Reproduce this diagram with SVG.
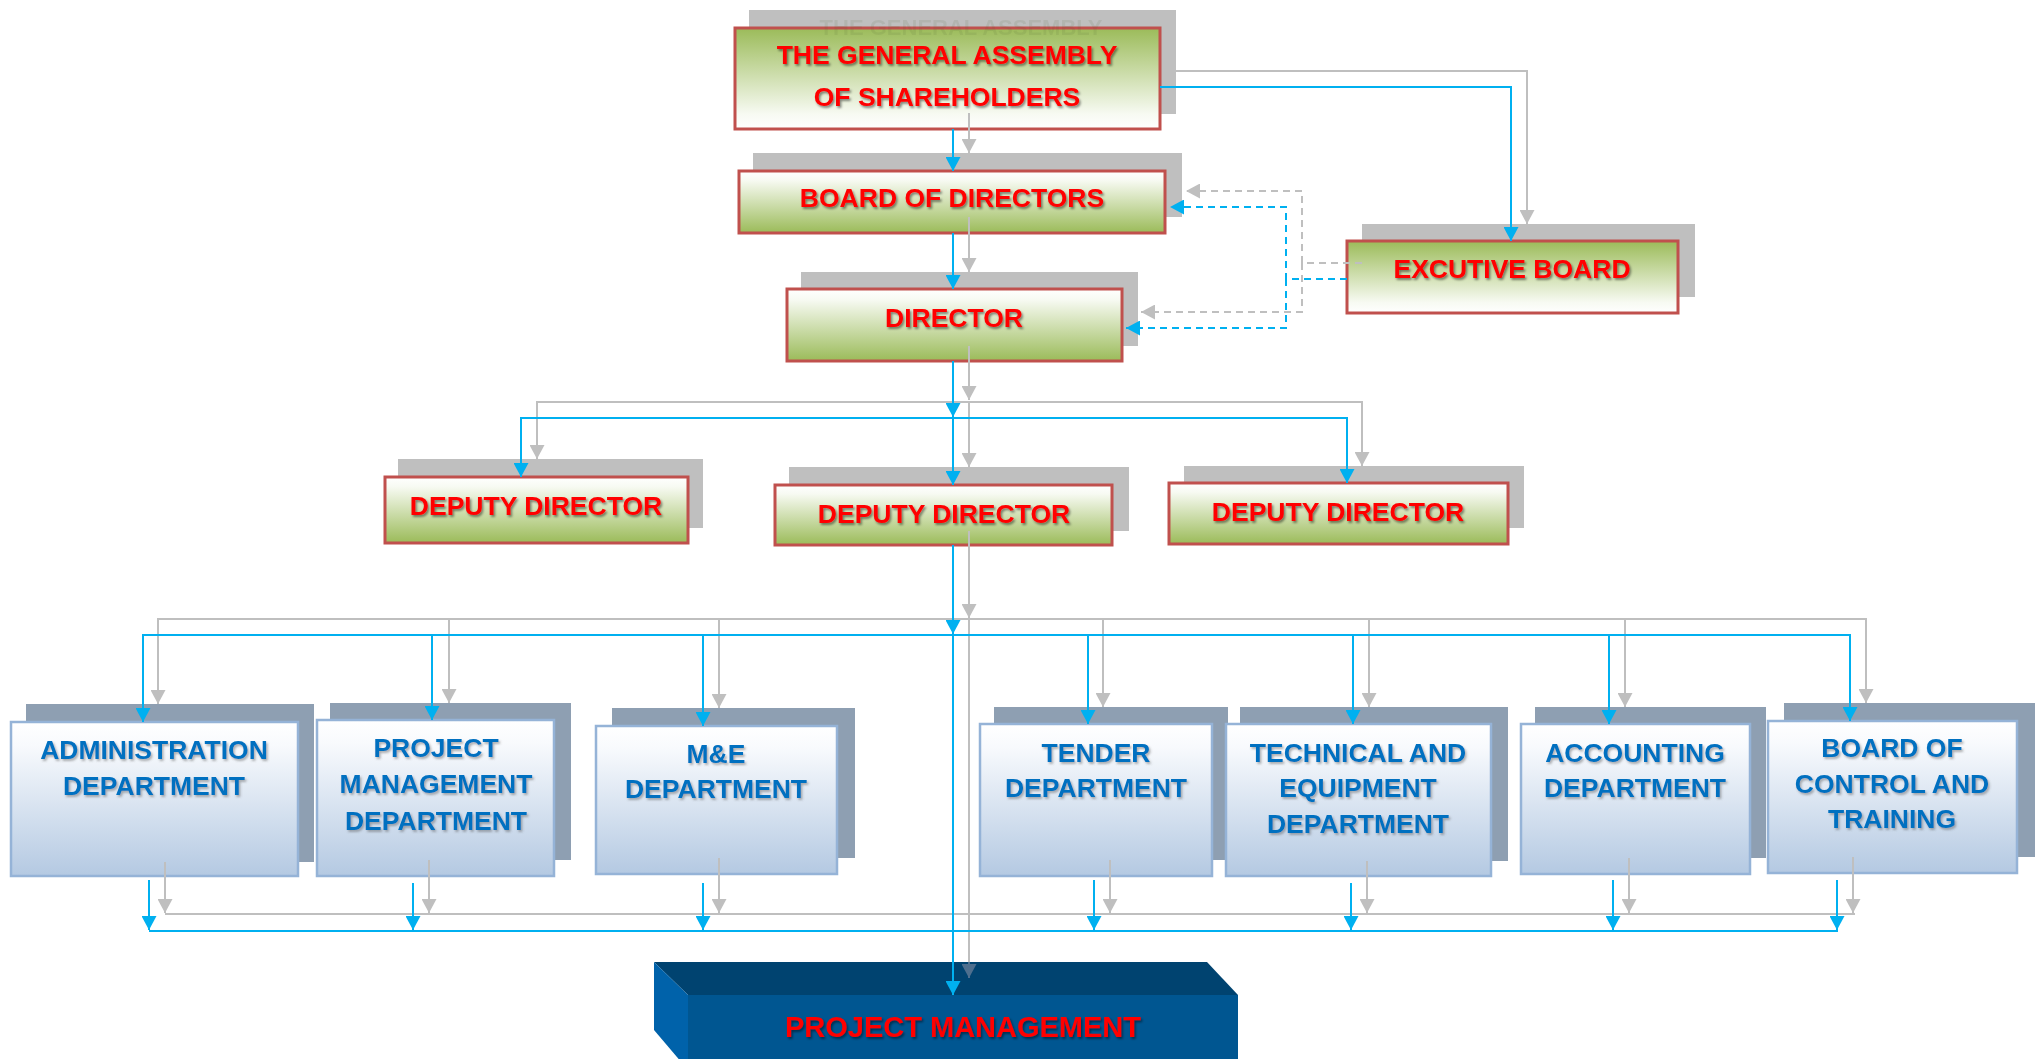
<svg xmlns="http://www.w3.org/2000/svg" width="2044" height="1059" viewBox="0 0 2044 1059">
<defs>
  <linearGradient id="gGreenTop" x1="0" y1="0" x2="0" y2="1">
    <stop offset="0" stop-color="#9BBB59"/>
    <stop offset="0.85" stop-color="#F7FAF2"/>
    <stop offset="1" stop-color="#FFFFFF"/>
  </linearGradient>
  <linearGradient id="gGreenBottom" x1="0" y1="0" x2="0" y2="1">
    <stop offset="0" stop-color="#FFFFFF"/>
    <stop offset="0.15" stop-color="#F7FAF2"/>
    <stop offset="1" stop-color="#9BBB59"/>
  </linearGradient>
  <linearGradient id="gBlue" x1="0" y1="0" x2="0" y2="1">
    <stop offset="0" stop-color="#FFFFFF"/>
    <stop offset="0.15" stop-color="#F8FAFD"/>
    <stop offset="1" stop-color="#B4C9E2"/>
  </linearGradient>
  <filter id="tsRed" x="-5%" y="-30%" width="110%" height="160%">
    <feDropShadow dx="1.5" dy="2" stdDeviation="1.2" flood-color="#000" flood-opacity="0.45"/>
  </filter>
  <filter id="tsBlue" x="-5%" y="-30%" width="110%" height="160%">
    <feDropShadow dx="1.5" dy="2" stdDeviation="1.2" flood-color="#555" flood-opacity="0.45"/>
  </filter>
  <marker id="arrG" markerUnits="userSpaceOnUse" markerWidth="15" markerHeight="15" viewBox="0 0 14 15" refX="14" refY="7.5" orient="auto">
    <path d="M0,0 L14,7.5 L0,15 z" fill="#BFBFBF"/>
  </marker>
  <marker id="arrB" markerUnits="userSpaceOnUse" markerWidth="15" markerHeight="15" viewBox="0 0 14 15" refX="14" refY="7.5" orient="auto">
    <path d="M0,0 L14,7.5 L0,15 z" fill="#00B0F0"/>
  </marker>
  <marker id="arrDim" markerUnits="userSpaceOnUse" markerWidth="15" markerHeight="15" viewBox="0 0 14 15" refX="14" refY="7.5" orient="auto">
    <path d="M0,0 L14,7.5 L0,15 z" fill="#4E6F8E"/>
  </marker>
  <style>
    .shR { fill: #BFBFBF; }
    .shB { fill: #8E9FB2; }
    .boxR { stroke: #C0504D; stroke-width: 3; }
    .boxB { fill: url(#gBlue); stroke: #95B3D7; stroke-width: 2.5; }
    .gt { fill: url(#gGreenTop); }
    .gb { fill: url(#gGreenBottom); }
    .rt { font-family: "Liberation Sans", Arial, sans-serif; font-weight: bold; font-size: 26.5px; fill: #FF0000; text-anchor: middle; filter: url(#tsRed); }
    .bt { font-family: "Liberation Sans", Arial, sans-serif; font-weight: bold; font-size: 26.5px; fill: #0070C0; text-anchor: middle; filter: url(#tsBlue); }
    .ghost { font-family: "Liberation Sans", Arial, sans-serif; font-weight: bold; font-size: 22px; fill: #4A5A30; opacity: 0.1; text-anchor: middle; }
    .cg { fill: none; stroke: #BFBFBF; stroke-width: 2; }
    .cb { fill: none; stroke: #00B0F0; stroke-width: 2; }
    .ag { marker-end: url(#arrG); }
    .ab { marker-end: url(#arrB); }
    .dash { stroke-dasharray: 7 5; }
  </style>
</defs>
<rect x="0" y="0" width="2044" height="1059" fill="#FFFFFF"/>

<!-- Red nodes -->
<g id="node-general-assembly">
  <rect class="shR" x="749" y="10" width="427" height="104"/>
  <rect class="boxR gt" x="735" y="28" width="425" height="101"/>
  <text class="ghost" x="961" y="35">THE GENERAL ASSEMBLY</text>
  <text class="rt" x="947" y="64">THE GENERAL ASSEMBLY</text>
  <text class="rt" x="947" y="106">OF SHAREHOLDERS</text>
</g>
<g id="node-board-of-directors">
  <rect class="shR" x="753" y="153" width="429" height="64"/>
  <rect class="boxR gb" x="739" y="171" width="426" height="62"/>
  <text class="rt" x="952" y="207">BOARD OF DIRECTORS</text>
</g>
<g id="node-director">
  <rect class="shR" x="801" y="272" width="337" height="74"/>
  <rect class="boxR gb" x="787" y="289" width="335" height="72"/>
  <text class="rt" x="954" y="327">DIRECTOR</text>
</g>
<g id="node-executive-board">
  <rect class="shR" x="1362" y="224" width="333" height="73"/>
  <rect class="boxR gt" x="1347" y="241" width="331" height="72"/>
  <text class="rt" x="1512" y="278">EXCUTIVE BOARD</text>
</g>
<g id="node-deputy-left">
  <rect class="shR" x="398" y="459" width="305" height="69"/>
  <rect class="boxR gb" x="385" y="477" width="303" height="66"/>
  <text class="rt" x="536" y="515">DEPUTY DIRECTOR</text>
</g>
<g id="node-deputy-middle">
  <rect class="shR" x="789" y="467" width="340" height="64"/>
  <rect class="boxR gb" x="775" y="485" width="337" height="60"/>
  <text class="rt" x="944" y="523">DEPUTY DIRECTOR</text>
</g>
<g id="node-deputy-right">
  <rect class="shR" x="1184" y="466" width="340" height="62"/>
  <rect class="boxR gb" x="1169" y="483" width="339" height="61"/>
  <text class="rt" x="1338" y="521">DEPUTY DIRECTOR</text>
</g>

<!-- Department nodes -->
<g id="node-administration">
  <rect class="shB" x="26" y="704" width="288" height="158"/>
  <rect class="boxB" x="11" y="722" width="287" height="154"/>
  <text class="bt" x="154" y="759">ADMINISTRATION</text>
  <text class="bt" x="154" y="795">DEPARTMENT</text>
</g>
<g id="node-project-management-dept">
  <rect class="shB" x="330" y="703" width="241" height="157"/>
  <rect class="boxB" x="317" y="720" width="237" height="156"/>
  <text class="bt" x="436" y="757">PROJECT</text>
  <text class="bt" x="436" y="793">MANAGEMENT</text>
  <text class="bt" x="436" y="830">DEPARTMENT</text>
</g>
<g id="node-me">
  <rect class="shB" x="612" y="708" width="243" height="150"/>
  <rect class="boxB" x="596" y="726" width="241" height="148"/>
  <text class="bt" x="716" y="763">M&amp;E</text>
  <text class="bt" x="716" y="798">DEPARTMENT</text>
</g>
<g id="node-tender">
  <rect class="shB" x="994" y="707" width="234" height="153"/>
  <rect class="boxB" x="980" y="724" width="232" height="152"/>
  <text class="bt" x="1096" y="762">TENDER</text>
  <text class="bt" x="1096" y="797">DEPARTMENT</text>
</g>
<g id="node-technical">
  <rect class="shB" x="1240" y="707" width="268" height="154"/>
  <rect class="boxB" x="1226" y="724" width="265" height="152"/>
  <text class="bt" x="1358" y="762">TECHNICAL AND</text>
  <text class="bt" x="1358" y="797">EQUIPMENT</text>
  <text class="bt" x="1358" y="833">DEPARTMENT</text>
</g>
<g id="node-accounting">
  <rect class="shB" x="1535" y="707" width="231" height="151"/>
  <rect class="boxB" x="1521" y="724" width="229" height="150"/>
  <text class="bt" x="1635" y="762">ACCOUNTING</text>
  <text class="bt" x="1635" y="797">DEPARTMENT</text>
</g>
<g id="node-control-training">
  <rect class="shB" x="1784" y="703" width="251" height="154"/>
  <rect class="boxB" x="1768" y="721" width="249" height="152"/>
  <text class="bt" x="1892" y="757">BOARD OF</text>
  <text class="bt" x="1892" y="793">CONTROL AND</text>
  <text class="bt" x="1892" y="828">TRAINING</text>
</g>

<!-- Project management 3D block -->
<g id="node-project-management">
  <polygon points="654,962 1207,962 1238,995 688,995" fill="#004370"/>
  <polygon points="654,962 688,995 688,1070 654,1030" fill="#0062AA"/>
  <rect x="688" y="995" width="550" height="70" fill="#005691"/>
  <text class="rt" x="963" y="1037" style="font-size:29px">PROJECT MANAGEMENT</text>
</g>

<!-- Connectors -->
<g id="connectors">
  <g id="connectors-gray">
    <path class="cg ag" d="M969,113 V153"/>
    <path class="cg ag" d="M1176,71 H1527 V224"/>
    <path class="cg ag" d="M969,217 V272"/>
    <path class="cg ag" d="M969,346 V400"/>
    <path class="cg ag" d="M969,402 V467"/>
    <path class="cg ag" d="M969,402 H537 V459"/>
    <path class="cg ag" d="M969,402 H1362 V466"/>
    <path class="cg ag" d="M969,531 V618"/>
    <path class="cg ag" d="M969,619 H158 V704"/>
    <path class="cg ag" d="M969,619 H1866 V703"/>
    <path class="cg ag" d="M449,619 V703"/>
    <path class="cg ag" d="M719,619 V708"/>
    <path class="cg ag" d="M1103,619 V707"/>
    <path class="cg ag" d="M1369,619 V707"/>
    <path class="cg ag" d="M1625,619 V707"/>
    <path class="cg" d="M969,619 V962"/>
    <path fill="none" stroke="#4E6F8E" stroke-width="2" marker-end="url(#arrDim)" d="M969,962 V978"/>
    <path class="cg ag" d="M165,862 V913"/>
    <path class="cg ag" d="M429,860 V913"/>
    <path class="cg ag" d="M719,858 V913"/>
    <path class="cg ag" d="M1110,860 V913"/>
    <path class="cg ag" d="M1367,861 V913"/>
    <path class="cg ag" d="M1629,858 V913"/>
    <path class="cg ag" d="M1853,857 V913"/>
    <path class="cg" d="M165,914 H1855"/>
    <path class="cg ag dash" d="M1362,263 H1302 V191 H1186"/>
    <path class="cg ag dash" d="M1302,263 V312 H1141"/>
  </g>
  <g id="connectors-blue">
    <path class="cb ab" d="M953,129 V171"/>
    <path class="cb ab" d="M1160,87 H1511 V241"/>
    <path class="cb ab" d="M953,233 V289"/>
    <path class="cb ab" d="M953,361 V417"/>
    <path class="cb ab" d="M953,418 V485"/>
    <path class="cb ab" d="M953,418 H521 V477"/>
    <path class="cb ab" d="M953,418 H1347 V483"/>
    <path class="cb ab" d="M953,545 V634"/>
    <path class="cb ab" d="M953,635 H143 V722"/>
    <path class="cb ab" d="M953,635 H1850 V721"/>
    <path class="cb ab" d="M432,635 V720"/>
    <path class="cb ab" d="M703,635 V726"/>
    <path class="cb ab" d="M1088,635 V724"/>
    <path class="cb ab" d="M1353,635 V724"/>
    <path class="cb ab" d="M1609,635 V724"/>
    <path class="cb ab" d="M953,635 V995"/>
    <path class="cb ab" d="M149,880 V930"/>
    <path class="cb ab" d="M413,883 V930"/>
    <path class="cb ab" d="M703,883 V930"/>
    <path class="cb ab" d="M1094,880 V930"/>
    <path class="cb ab" d="M1351,883 V930"/>
    <path class="cb ab" d="M1613,880 V930"/>
    <path class="cb ab" d="M1837,880 V930"/>
    <path class="cb" d="M149,931 H1838"/>
    <path class="cb ab dash" d="M1347,279 H1286 V207 H1170"/>
    <path class="cb ab dash" d="M1286,279 V328 H1126"/>
  </g>
</g>
</svg>
